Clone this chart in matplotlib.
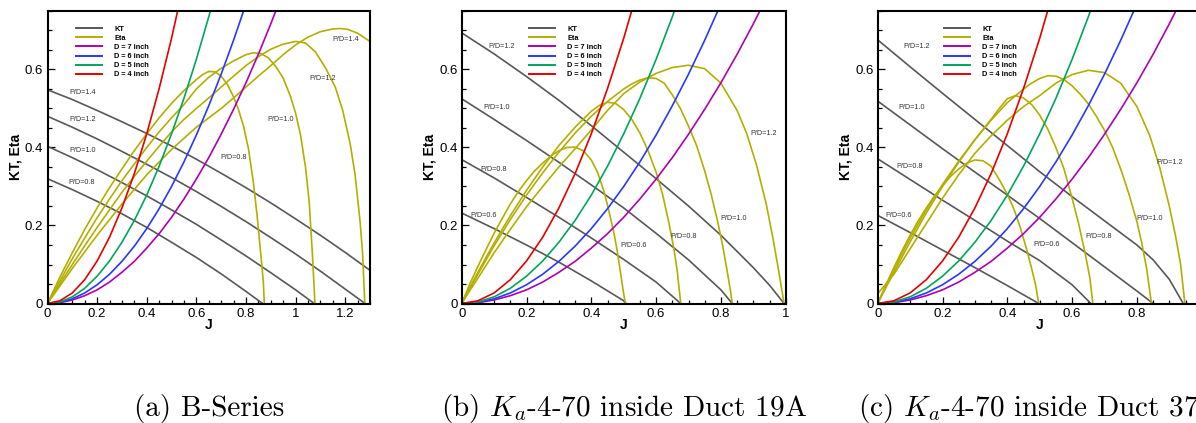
import numpy as np
import matplotlib.pyplot as plt
from matplotlib.ticker import MultipleLocator, FixedLocator, FuncFormatter
from matplotlib.lines import Line2D

plt.rcParams['font.family'] = ['Liberation Sans', 'DejaVu Sans']
plt.rcParams['mathtext.fontset'] = 'cm'

# colours
c_kt = '#585858'
c_eta = '#b5ae00'
c_d7 = '#b000b4'
c_d6 = '#2838ff'
c_d5 = '#00a65a'
c_d4 = '#e60000'

# ---- thrust demand curves KT(J) for the four diameters (same in all panels)
J_d = [0, .05, .1, .15, .2, .25, .3, .35, .4, .45, .5, .55, .6, .65, .7, .75, .8, .85, .9, .95, 1.0]
kt_d4 = [0, .007, .027, .061, .109, .170, .245, .333, .435, .551, .680, .823]
kt_d5 = [0, .004, .017, .039, .070, .109, .157, .213, .278, .352, .435, .526, .626, .735, .853]
kt_d6 = [0, .003, .012, .027, .048, .075, .108, .147, .192, .243, .300, .363, .432, .507, .588, .675, .768]
kt_d7 = [0, .002, .009, .020, .035, .055, .080, .108, .142, .179, .221, .268, .319, .374, .434,
         .498, .566, .639, .717, .799, .885]

# ---- (a) B-Series
a_kt14_J = [0, .1, .2, .3, .4, .5, .6, .7, .8, .9, 1.0, 1.1, 1.2, 1.3]
a_kt14 = [.548, .523, .495, .466, .436, .404, .370, .334, .297, .258, .217, .175, .131, .085]
a_kt12_J = [0, .1, .2, .3, .4, .5, .6, .7, .8, .9, 1.0, 1.1, 1.2, 1.28]
a_kt12 = [.480, .452, .422, .390, .357, .323, .287, .249, .210, .169, .127, .083, .037, 0]
a_kt10_J = [0, .1, .2, .3, .4, .5, .6, .7, .8, .9, 1.0, 1.075]
a_kt10 = [.403, .374, .343, .310, .276, .240, .203, .163, .122, .079, .035, 0]
a_kt08_J = [0, .1, .2, .3, .4, .5, .6, .7, .8, .867]
a_kt08 = [.320, .292, .262, .230, .195, .157, .118, .076, .031, 0]

a_eta08_J = [0, .05, .1, .15, .2, .25, .3, .35, .4, .45, .5, .55, .6, .625, .65, .675, .7, .725,
             .75, .77, .79, .81, .83, .845, .86, .87, .874]
a_eta08 = [0, .068, .13, .19, .245, .297, .345, .392, .435, .476, .513, .546, .574, .587, .595, .594,
           .583, .562, .530, .497, .455, .397, .310, .225, .125, .055, 0]
a_eta10_J = [0, .05, .1, .15, .2, .25, .3, .35, .4, .45, .5, .55, .6, .65, .7, .75, .8, .83, .86,
             .89, .92, .95, .98, 1.0, 1.02, 1.04, 1.055, 1.068, 1.078]
a_eta10 = [0, .058, .115, .168, .22, .268, .315, .358, .40, .44, .476, .51, .55, .58, .603, .622,
           .638, .643, .641, .630, .608, .578, .530, .488, .432, .350, .260, .125, 0]
a_eta12_J = [0, .05, .1, .15, .2, .25, .3, .35, .4, .45, .5, .55, .6, .65, .7, .75, .8, .85, .9,
             .95, 1.0, 1.04, 1.08, 1.12, 1.16, 1.19, 1.22, 1.24, 1.26, 1.27, 1.279]
a_eta12 = [0, .051, .10, .148, .195, .24, .285, .326, .365, .403, .44, .472, .50, .527, .555, .583,
           .61, .633, .652, .665, .672, .668, .645, .605, .555, .495, .41, .33, .21, .13, 0]
a_eta14_J = [0, .1, .2, .3, .4, .5, .6, .65, .7, .75, .8, .85, .9, .95, 1.0, 1.05, 1.1, 1.15, 1.18,
             1.21, 1.25, 1.3]
a_eta14 = [0, .09, .175, .255, .33, .395, .452, .476, .50, .527, .555, .583, .61, .638, .663, .683,
           .697, .704, .705, .703, .693, .672]

a_kt_labels = ['P/D=1.4', 'P/D=1.2', 'P/D=1.0', 'P/D=0.8']
a_kt_lab_J = [0.14, 0.14, 0.14, 0.138]
a_kt_lab_v = [0.541, 0.473, 0.392, 0.311]
a_eta_labels = ['P/D=1.4', 'P/D=1.2', 'P/D=1.0', 'P/D=0.8']
a_eta_lab_J = [1.202, 1.109, 0.938, 0.749]
a_eta_lab_v = [0.676, 0.576, 0.473, 0.375]

# ---- (b) Ka-4-70 inside Duct 19A
b_kt12_J = [0, .1, .2, .3, .4, .5, .6, .7, .8, .9, .95, .995]
b_kt12 = [.694, .640, .582, .521, .456, .388, .320, .250, .175, .092, .047, 0]
b_kt10_J = [0, .1, .2, .3, .4, .5, .6, .7, .8, .835]
b_kt10 = [.525, .472, .418, .362, .304, .245, .180, .112, .035, 0]
b_kt08_J = [0, .1, .2, .3, .4, .5, .6, .676]
b_kt08 = [.369, .322, .272, .221, .168, .113, .055, 0]
b_kt06_J = [0, .1, .2, .3, .4, .5, .508]
b_kt06 = [.232, .192, .150, .106, .058, .007, 0]

b_eta06_J = [0, .025, .05, .075, .1, .125, .15, .175, .2, .225, .25, .275, .3, .325, .35, .375, .4,
             .42, .44, .455, .47, .48, .49, .498, .505]
b_eta06 = [0, .05, .095, .138, .18, .218, .255, .287, .315, .34, .36, .378, .392, .40, .401, .392,
           .368, .335, .285, .235, .18, .135, .08, .035, 0]
b_eta08_J = [0, .025, .05, .075, .1, .15, .2, .25, .3, .35, .4, .425, .45, .475, .5, .525, .55, .575,
             .6, .62, .64, .655, .665, .676]
b_eta08 = [0, .041, .08, .118, .155, .225, .29, .35, .405, .452, .493, .508, .516, .513, .497, .472,
           .437, .392, .337, .28, .205, .14, .085, 0]
b_eta10_J = [0, .025, .05, .1, .15, .2, .25, .3, .35, .4, .45, .5, .525, .55, .575, .6, .625, .65,
             .675, .7, .725, .75, .77, .79, .805, .82, .83, .835]
b_eta10 = [0, .038, .075, .148, .215, .278, .335, .388, .437, .48, .518, .55, .563, .573, .579, .577,
           .565, .535, .50, .455, .405, .34, .28, .21, .15, .08, .03, 0]
b_eta12_J = [0, .025, .05, .1, .15, .2, .25, .3, .35, .4, .45, .5, .55, .6, .65, .7, .75, .8, .85,
             .88, .91, .94, .96, .975, .985, .995]
b_eta12 = [0, .033, .065, .13, .19, .248, .30, .35, .397, .445, .495, .538, .568, .59, .605, .611,
           .602, .565, .495, .435, .355, .255, .17, .10, .05, 0]

b_kt_labels = ['P/D=1.2', 'P/D=1.0', 'P/D=0.8', 'P/D=0.6']
b_kt_lab_J = [0.124, 0.107, 0.097, 0.069]
b_kt_lab_v = [0.658, 0.503, 0.343, 0.226]
b_eta_labels = ['P/D=1.2', 'P/D=1.0', 'P/D=0.8', 'P/D=0.6']
b_eta_lab_J = [0.933, 0.838, 0.686, 0.531]
b_eta_lab_v = [0.435, 0.217, 0.172, 0.149]

# ---- (c) Ka-4-70 inside Duct 37
c_kt12_J = [0, .1, .2, .3, .4, .5, .6, .7, .8, .85, .9, .943]
c_kt12 = [.676, .607, .539, .472, .405, .338, .274, .212, .150, .112, .062, 0]
c_kt10_J = [0, .1, .2, .3, .4, .5, .6, .7, .8, .85]
c_kt10 = [.519, .458, .397, .337, .278, .218, .156, .094, .032, 0]
c_kt08_J = [0, .1, .2, .3, .4, .5, .6, .658]
c_kt08 = [.371, .318, .265, .213, .160, .110, .048, 0]
c_kt06_J = [0, .1, .2, .3, .4, .497]
c_kt06 = [.226, .182, .137, .092, .046, 0]

c_eta06_J = [0, .025, .05, .075, .1, .125, .15, .175, .2, .225, .25, .275, .3, .325, .35, .375, .4,
             .42, .44, .46, .475, .488, .497]
c_eta06 = [0, .047, .092, .135, .175, .212, .245, .275, .302, .326, .345, .36, .368, .366, .352, .318,
           .28, .243, .195, .138, .09, .045, 0]
c_eta08_J = [0, .025, .05, .1, .15, .2, .25, .3, .35, .375, .4, .425, .45, .475, .5, .525, .55, .575,
             .6, .62, .64, .655, .664]
c_eta08 = [0, .045, .088, .168, .24, .305, .365, .42, .472, .50, .525, .533, .527, .51, .483, .447,
           .40, .345, .27, .205, .13, .065, 0]
c_eta10_J = [0, .025, .05, .1, .15, .2, .25, .3, .35, .4, .45, .475, .5, .525, .55, .575, .6, .625,
             .65, .675, .7, .725, .75, .775, .8, .815, .83, .845]
c_eta10 = [0, .04, .08, .158, .232, .30, .362, .42, .47, .515, .55, .565, .577, .584, .583, .574,
           .558, .537, .512, .48, .444, .40, .345, .282, .21, .155, .09, 0]
c_eta12_J = [0, .05, .1, .15, .2, .25, .3, .35, .4, .45, .5, .55, .6, .65, .7, .75, .8, .84, .87,
             .9, .92, .935, .948]
c_eta12 = [.025, .075, .14, .205, .27, .33, .385, .43, .47, .505, .533, .565, .587, .598, .592, .565,
           .505, .43, .35, .25, .17, .10, 0]

c_kt_labels = ['P/D=1.2', 'P/D=1.0', 'P/D=0.8', 'P/D=0.6']
c_kt_lab_J = [0.121, 0.104, 0.097, 0.066]
c_kt_lab_v = [0.658, 0.503, 0.350, 0.226]
c_eta_labels = ['P/D=1.2', 'P/D=1.0', 'P/D=0.8', 'P/D=0.6']
c_eta_lab_J = [0.902, 0.840, 0.682, 0.520]
c_eta_lab_v = [0.362, 0.217, 0.171, 0.151]

legend_labels = ['KT', 'Eta', 'D = 7 inch', 'D = 6 inch', 'D = 5 inch', 'D = 4 inch']
captions = ['(a) B-Series', r'(b) $K_a$-4-70 inside Duct 19A', r'(c) $K_a$-4-70 inside Duct 37A']

W, H = 1196, 423
fig = plt.figure(figsize=(W / 100, H / 100), dpi=100)


def panel(left, width, xmax, xticks, kts, etas, ktlab, etalab, leg_x):
    ax = fig.add_axes([left / W, (H - 303.5) / H, width / W, 292.5 / H])
    lw = 1.2
    for J, v in kts:
        ax.plot(J, v, color=c_kt, lw=lw)
    for J, v in etas:
        ax.plot(J, v, color=c_eta, lw=lw)
    ax.plot(J_d[:len(kt_d7)], kt_d7, color=c_d7, lw=lw)
    ax.plot(J_d[:len(kt_d6)], kt_d6, color=c_d6, lw=lw)
    ax.plot(J_d[:len(kt_d5)], kt_d5, color=c_d5, lw=lw)
    ax.plot(J_d[:len(kt_d4)], kt_d4, color=c_d4, lw=lw)
    for txt, x, y in zip(*ktlab):
        ax.text(x, y, txt, fontsize=5.2, color='#333333', ha='center', va='center')
    for txt, x, y in zip(*etalab):
        ax.text(x, y, txt, fontsize=5.2, color='#333333', ha='center', va='center')

    handles = [Line2D([], [], color=c, lw=1.4) for c in [c_kt, c_eta, c_d7, c_d6, c_d5, c_d4]]
    ax.legend(handles, legend_labels, loc='upper left', bbox_to_anchor=(leg_x, 0.95),
              frameon=False, prop=dict(weight='bold', size=5.3), handlelength=3.5,
              handletextpad=1.7, labelspacing=0.27, borderpad=0, borderaxespad=0)

    ax.set_xlim(0, xmax)
    ax.set_ylim(0, 0.75)
    ax.xaxis.set_major_locator(FixedLocator(xticks))
    ax.xaxis.set_minor_locator(MultipleLocator(0.05))
    ax.yaxis.set_major_locator(MultipleLocator(0.2))
    ax.yaxis.set_minor_locator(MultipleLocator(0.05))
    fmt = FuncFormatter(lambda v, p: f'{round(v, 2):g}')
    ax.xaxis.set_major_formatter(fmt)
    ax.yaxis.set_major_formatter(fmt)
    ax.tick_params(which='both', direction='in', top=False, right=False, labelsize=9.5, width=0.9)
    ax.tick_params(which='major', length=5, pad=3)
    ax.tick_params(which='minor', length=2.6)
    for s in ax.spines.values():
        s.set_linewidth(1.5)
    ax.set_xlabel('J', fontsize=10, fontweight='bold', labelpad=-1)
    ax.set_ylabel('KT, Eta', fontsize=10, fontweight='bold', labelpad=2)
    return ax


ax_a = panel(47.5, 322.5, 1.3, [0, .2, .4, .6, .8, 1.0, 1.2],
             [(a_kt14_J, a_kt14), (a_kt12_J, a_kt12), (a_kt10_J, a_kt10), (a_kt08_J, a_kt08)],
             [(a_eta08_J, a_eta08), (a_eta10_J, a_eta10), (a_eta12_J, a_eta12), (a_eta14_J, a_eta14)],
             (a_kt_labels, a_kt_lab_J, a_kt_lab_v), (a_eta_labels, a_eta_lab_J, a_eta_lab_v), 0.088)
ax_b = panel(461.7, 324, 1.0, [0, .2, .4, .6, .8, 1.0],
             [(b_kt12_J, b_kt12), (b_kt10_J, b_kt10), (b_kt08_J, b_kt08), (b_kt06_J, b_kt06)],
             [(b_eta06_J, b_eta06), (b_eta08_J, b_eta08), (b_eta10_J, b_eta10), (b_eta12_J, b_eta12)],
             (b_kt_labels, b_kt_lab_J, b_kt_lab_v), (b_eta_labels, b_eta_lab_J, b_eta_lab_v), 0.208)
ax_c = panel(877.7, 324, 1.0, [0, .2, .4, .6, .8],
             [(c_kt12_J, c_kt12), (c_kt10_J, c_kt10), (c_kt08_J, c_kt08), (c_kt06_J, c_kt06)],
             [(c_eta06_J, c_eta06), (c_eta08_J, c_eta08), (c_eta10_J, c_eta10), (c_eta12_J, c_eta12)],
             (c_kt_labels, c_kt_lab_J, c_kt_lab_v), (c_eta_labels, c_eta_lab_J, c_eta_lab_v), 0.205)

for ax, cap in zip([ax_a, ax_b, ax_c], captions):
    pos = ax.get_position()
    fig.text((pos.x0 + pos.x1) / 2, 0.035, cap, fontsize=21, family='cmr10',
             ha='center', va='center')

fig.savefig('out.png', dpi=100)
